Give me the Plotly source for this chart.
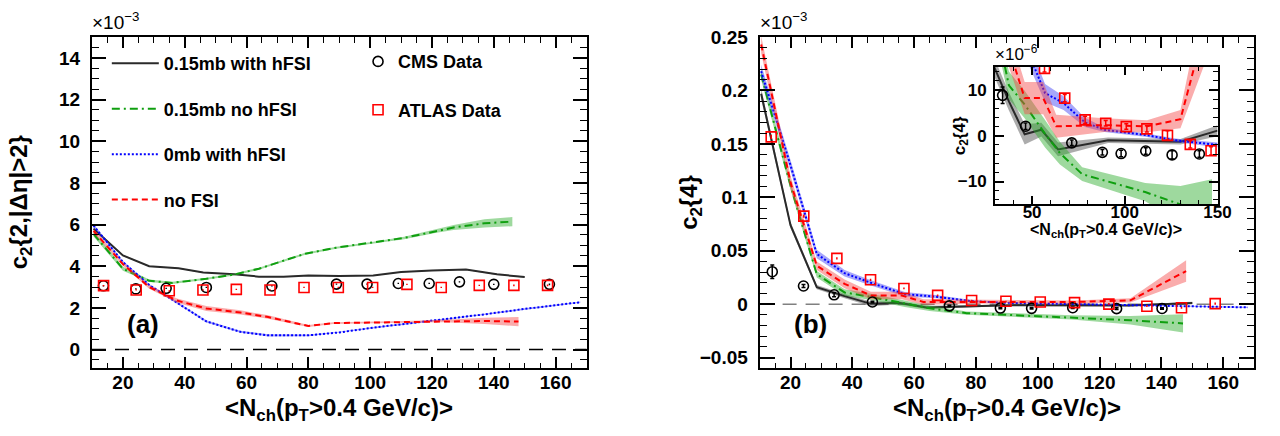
import plotly.graph_objects as go

# ================= DATA =================
# Panel (a): c2{2,|deta|>2} in units of 1e-3
cms_a_x = [13.7, 24.2, 34.0, 47.0, 68.2, 89.1, 99.0, 109.1, 119.1, 128.9, 140.0, 158.0]
cms_a_y = [3.06, 2.91, 2.94, 2.98, 3.05, 3.14, 3.14, 3.17, 3.17, 3.25, 3.13, 3.13]
cms_a_err = [0.03, 0.03, 0.03, 0.03, 0.03, 0.03, 0.03, 0.03, 0.03, 0.03, 0.03, 0.04]

atlas_x = [13.75, 24.3, 35.0, 45.9, 56.7, 67.6, 78.6, 89.7, 100.8, 111.9, 123.0, 135.3, 146.5, 157.4]
atlas_a_y = [3.07, 2.86, 2.82, 2.86, 2.89, 2.86, 2.98, 2.98, 2.98, 3.13, 2.98, 3.08, 3.08, 3.08]
atlas_a_err = [0.03, 0.03, 0.03, 0.03, 0.03, 0.03, 0.03, 0.03, 0.03, 0.03, 0.03, 0.03, 0.04, 0.04]

black_a_x = [10.5, 20, 28.5, 38, 46, 56, 64, 72, 80, 90, 101, 110, 120, 131, 141, 150]
black_a_y = [5.8, 4.52, 4.0, 3.9, 3.7, 3.62, 3.5, 3.5, 3.55, 3.53, 3.55, 3.72, 3.8, 3.84, 3.61, 3.48]
black_a_err = [0.05, 0.03, 0.02, 0.02, 0.02, 0.02, 0.02, 0.02, 0.02, 0.02, 0.02, 0.02, 0.02, 0.02, 0.03, 0.03]

green_a_x = [10.5, 20, 28.5, 36, 47, 56, 64, 72, 79, 89, 101, 111, 121, 127, 137, 146]
green_a_y = [5.55, 3.88, 3.3, 3.2, 3.4, 3.6, 3.88, 4.27, 4.6, 4.89, 5.13, 5.36, 5.67, 5.86, 6.06, 6.14]
green_a_err = [0.12, 0.1, 0.06, 0.05, 0.05, 0.05, 0.05, 0.05, 0.05, 0.05, 0.05, 0.06, 0.08, 0.12, 0.2, 0.22]

red_a_x = [10.5, 20, 28.5, 37.5, 47, 58, 67, 80, 88, 101, 111, 124, 137, 148]
red_a_y = [5.7, 4.1, 3.0, 2.35, 1.97, 1.78, 1.56, 1.13, 1.27, 1.30, 1.33, 1.37, 1.37, 1.34]
red_a_err = [0.1, 0.08, 0.08, 0.1, 0.12, 0.1, 0.08, 0.05, 0.04, 0.04, 0.04, 0.06, 0.15, 0.22]

blue_a_x = [10.5, 20, 28.5, 37.5, 47, 58, 67, 80, 90, 101, 111, 124, 137, 150, 168]
blue_a_y = [5.95, 4.2, 3.1, 2.25, 1.35, 0.85, 0.68, 0.68, 0.82, 1.05, 1.22, 1.45, 1.69, 1.95, 2.27]
blue_a_err = [0.08, 0.06, 0.05, 0.05, 0.05, 0.05, 0.05, 0.04, 0.03, 0.03, 0.03, 0.03, 0.03, 0.03, 0.03]

# Panel (b): c2{4} in units of 1e-6 (main panel shows them in units of 1e-3)
cms_b_x = [14.1, 24.2, 34.1, 46.5, 71.4, 87.9, 98.0, 111.3, 125.5, 140.2]
cms_b_y = [30.4, 17.0, 8.8, 2.06, -1.56, -3.63, -3.9, -3.34, -4.19, -3.98]
cms_b_err = [6.3, 1.5, 1.8, 0.7, 0.6, 0.6, 0.7, 0.7, 0.9, 0.7]

atlas_b_y = [156.6, 82.4, 42.9, 22.8, 14.7, 8.2, 3.46, 2.69, 1.98, 1.48, 0.07, -1.9, -3.3, 0.5]
atlas_b_err = [2.0, 1.5, 1.0, 1.0, 0.8, 0.8, 0.8, 0.6, 0.6, 0.7, 1.0, 0.8, 0.9, 1.0]

black_b_x = [10.5, 20, 28.5, 37.5, 46, 55, 64, 91, 130, 150]
black_b_y = [197, 74, 16, 7.5, 0.3, 1.3, -3.0, -1.0, -1.3, 1.1]
black_b_err = [5, 3, 2, 2, 2.2, 1.5, 1.5, 0.6, 0.6, 1.2]

green_b_x = [10.5, 20, 28.5, 37.5, 46, 57, 65, 77, 111, 130, 147]
green_b_y = [215, 111, 28, 11, 6.8, 0.4, -3.8, -8.4, -12.3, -15, -18]
green_b_err = [5, 4, 3, 3, 3, 3, 2.5, 1.5, 2, 4, 8.5]

red_b_x = [10.5, 20, 28.5, 37.5, 46, 56, 63, 89, 112, 130, 148]
red_b_y = [243, 114, 36, 19, 8.2, 8.2, 2.05, 2.3, 2.05, 3.6, 31]
red_b_err = [8, 6, 4, 4, 3.5, 3.5, 2.5, 1.5, 1.3, 2, 10]

blue_b_x = [10.5, 20, 28.5, 37.5, 46, 57, 67, 78.5, 89, 112, 127, 150, 168]
blue_b_y = [218, 130, 47, 29, 20, 9.3, 7.1, 2.9, 1.3, 0.1, -1, -2, -3]
blue_b_err = [6, 5, 4, 3, 2.5, 2, 1.5, 1, 0.5, 0.4, 0.4, 0.5, 0.5]

model_names = ["0.15mb with hFSI", "0.15mb no hFSI", "0mb with hFSI", "no FSI"]

# ================= STYLE / LAYOUT =================
W, H = 1280, 436
FONT = "Liberation Sans, Arial, Helvetica, sans-serif"

def fx(p):
    return p / W

def fy(p):
    return 1 - p / H

styles = {
    "black": dict(color="#2a2a2a", dash="solid", fill="rgba(70,70,70,0.45)"),
    "green": dict(color="#0f9f0f", dash="8px,4px,2px,4px", fill="rgba(40,170,40,0.45)"),
    "blue": dict(color="#0000ff", dash="2px,2px", fill="rgba(60,60,245,0.45)"),
    "red": dict(color="#ff0000", dash="6px,4px", fill="rgba(245,70,70,0.45)"),
}

fig = go.Figure()


def add_model(x, y, err, key, xa, ya, scale=1.0, name=None, legend=None, group=None):
    st = styles[key]
    ys = [v * scale for v in y]
    es = [e * scale for e in err]
    upper = [a + b for a, b in zip(ys, es)]
    lower = [a - b for a, b in zip(ys, es)]
    fig.add_trace(go.Scatter(
        x=list(x) + list(x)[::-1], y=upper + lower[::-1], fill="toself",
        fillcolor=st["fill"], line=dict(width=0), mode="lines",
        hoverinfo="skip", showlegend=False, xaxis=xa, yaxis=ya))
    fig.add_trace(go.Scatter(
        x=x, y=ys, mode="lines", line=dict(color=st["color"], width=2, dash=st["dash"]),
        name=name, showlegend=name is not None, legend=legend, legendgroup=group,
        xaxis=xa, yaxis=ya))


keys = ["black", "green", "blue", "red"]
a_sets = [(black_a_x, black_a_y, black_a_err), (green_a_x, green_a_y, green_a_err),
          (blue_a_x, blue_a_y, blue_a_err), (red_a_x, red_a_y, red_a_err)]
b_sets = [(black_b_x, black_b_y, black_b_err), (green_b_x, green_b_y, green_b_err),
          (blue_b_x, blue_b_y, blue_b_err), (red_b_x, red_b_y, red_b_err)]

for k, (xs, ys, es), nm in zip(keys, a_sets, model_names):
    add_model(xs, ys, es, k, "x", "y", 1.0, name=nm, legend="legend", group=nm)
for k, (xs, ys, es) in zip(keys, b_sets):
    add_model(xs, ys, es, k, "x2", "y2", 1e-3)
for k, (xs, ys, es) in zip(keys, b_sets):
    add_model(xs, ys, es, k, "x3", "y3", 1.0)


def add_data(x, y, err, kind, xa, ya, scale=1.0, name=None, legend=None, group=None, cap=2):
    col = "black" if kind == "cms" else "red"
    sym = "circle-open" if kind == "cms" else "square-open"
    mk = dict(symbol=sym, size=10, color=col, line=dict(width=1.6, color=col))
    fig.add_trace(go.Scatter(
        x=x, y=[v * scale for v in y], mode="markers", marker=mk,
        error_y=dict(type="data", array=[e * scale for e in err], color=col, thickness=1.5, width=cap),
        name=name, showlegend=name is not None, legend=legend, legendgroup=group,
        xaxis=xa, yaxis=ya))


add_data(cms_a_x, cms_a_y, cms_a_err, "cms", "x", "y", name="CMS Data", legend="legend2", group="cms", cap=0)
add_data(atlas_x, atlas_a_y, atlas_a_err, "atlas", "x", "y", name="ATLAS Data", legend="legend2", group="atlas", cap=0)
add_data(cms_b_x, cms_b_y, cms_b_err, "cms", "x2", "y2", 1e-3)
add_data(atlas_x, atlas_b_y, atlas_b_err, "atlas", "x2", "y2", 1e-3, cap=0)
add_data(cms_b_x, cms_b_y, cms_b_err, "cms", "x3", "y3")
add_data(atlas_x, atlas_b_y, atlas_b_err, "atlas", "x3", "y3")

tickfont = dict(family=FONT, size=19, color="black", weight="bold")
insetfont = dict(family=FONT, size=17, color="black", weight="bold")


def axis(domain, rng, dtick, minor, ticklen, mlen, font, anchor, standoff, lw=2):
    return dict(domain=domain, range=rng, dtick=dtick, tick0=0, ticks="inside", ticklen=ticklen,
                tickwidth=1.5, tickcolor="black", mirror="allticks", showline=True,
                linewidth=lw, linecolor="black", showgrid=False, zeroline=False,
                tickfont=font, anchor=anchor, ticklabelstandoff=standoff,
                minor=dict(dtick=minor, ticks="inside", ticklen=mlen, tickwidth=1.2,
                           tickcolor="black", showgrid=False))


ytop, ybot = 27.7, 366.7
fig.update_layout(
    width=W, height=H, margin=dict(l=0, r=0, t=0, b=0),
    paper_bgcolor="white", plot_bgcolor="white",
    font=dict(family=FONT, color="black"),
    xaxis=axis([fx(93), fx(593)], [10, 170], 20, 5, 11, 5.5, tickfont, "y", -4),
    yaxis=axis([fy(ybot), fy(ytop)], [-0.9, 15], 2, 0.5, 14, 7, tickfont, "x", 6),
    xaxis2=axis([fx(768), fx(1268)], [10, 170], 20, 5, 11, 5.5, tickfont, "y2", -4),
    yaxis2=axis([fy(ybot), fy(ytop)], [-0.06, 0.25], 0.05, 0.01, 15, 7, tickfont, "x2", 6),
    xaxis3=axis([fx(1006), fx(1231)], [30, 150], 50, 10, 8, 4, insetfont, "y3", -9),
    yaxis3=axis([fy(199), fy(58.3)], [-15, 15], 10, 2, 9, 4.5, insetfont, "x3", 3),
    legend=dict(x=fx(108), y=fy(36), xanchor="left", yanchor="top",
                font=dict(family=FONT, size=18, color="black", weight="bold"),
                bgcolor="rgba(0,0,0,0)", borderwidth=0, tracegroupgap=19,
                traceorder="grouped", itemwidth=47),
    legend2=dict(x=fx(362), y=fy(34), xanchor="left", yanchor="top",
                 font=dict(family=FONT, size=18, color="black", weight="bold"),
                 bgcolor="rgba(0,0,0,0)", borderwidth=0, tracegroupgap=22,
                 traceorder="grouped"),
    showlegend=True,
)

for xr, yr, col in [("x", "y", "black"), ("x2", "y2", "#808080"), ("x3", "y3", "#808080")]:
    fig.add_shape(type="line", xref=f"{xr} domain", yref=yr, x0=0, x1=1, y0=0, y1=0,
                  line=dict(color=col, width=1.5, dash="14px,9px"), layer="below")

xtitle = "&lt;N<sub>ch</sub>(p<sub>T</sub>&gt;0.4 GeV/c)&gt;"
titlefont = dict(family=FONT, size=24, color="black", weight="bold")
ann = [
    dict(text=xtitle, x=fx(343), y=fy(409), font=titlefont),
    dict(text=xtitle, x=fx(1018), y=fy(409), font=titlefont),
    dict(text="c<sub>2</sub>{2,|Δη|&gt;2}", x=fx(21), y=fy(197), font=titlefont, textangle=-90),
    dict(text="c<sub>2</sub>{4}", x=fx(698), y=fy(197), font=titlefont, textangle=-90),
    dict(text=xtitle, x=fx(1118.5), y=fy(226), font=dict(family=FONT, size=16, color="black", weight="bold")),
    dict(text="c<sub>2</sub>{4}", x=fx(971), y=fy(128.7), font=dict(family=FONT, size=17, color="black", weight="bold"), textangle=-90),
    dict(text="(a)", x=fx(145), y=fy(321), font=dict(family=FONT, size=26, color="black", weight="bold")),
    dict(text="(b)", x=fx(819), y=fy(321), font=dict(family=FONT, size=26, color="black", weight="bold")),
    dict(text="×10<sup>−3</sup>", x=fx(91), y=fy(26), xanchor="left", yanchor="bottom", font=dict(family=FONT, size=19, color="black")),
    dict(text="×10<sup>−3</sup>", x=fx(766), y=fy(26), xanchor="left", yanchor="bottom", font=dict(family=FONT, size=19, color="black")),
    dict(text="×10<sup>−6</sup>", x=fx(1004), y=fy(57), xanchor="left", yanchor="bottom", font=dict(family=FONT, size=17, color="black")),
]
for a in ann:
    a.setdefault("xanchor", "center")
    a.setdefault("yanchor", "middle")
    fig.add_annotation(xref="paper", yref="paper", showarrow=False, **a)

fig.write_html("out.html", config={"displayModeBar": False},
               post_script="document.body.style.margin='0px';document.body.style.overflow='hidden';")
